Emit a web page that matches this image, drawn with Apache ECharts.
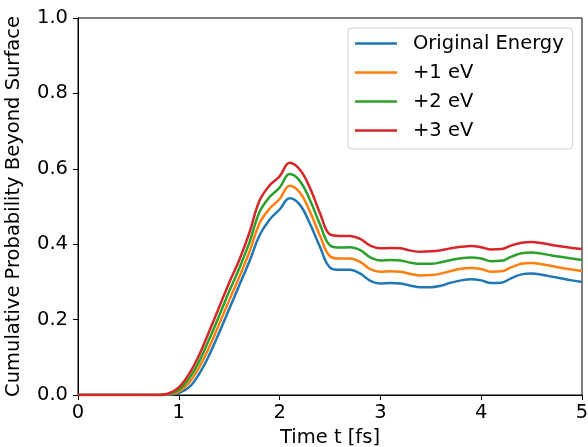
<!DOCTYPE html>
<html>
<head>
<meta charset="utf-8">
<script src="https://cdn.jsdelivr.net/npm/echarts@6/dist/echarts.min.js"></script>
<style>
html,body{margin:0;padding:0;background:#fff;}
#c{width:588px;height:447px;}
</style>
</head>
<body>
<div id="c"></div>
<script>
var times = [0.0,0.1,0.2,0.3,0.4,0.5,0.6,0.7,0.8,0.9,1.0,1.1,1.2,1.3,1.4,1.5,1.6,1.7,1.8,1.9,2.0,2.1,2.2,2.3,2.4,2.5,2.6,2.7,2.8,2.9,3.0,3.1,3.2,3.3,3.4,3.5,3.6,3.7,3.8,3.9,4.0,4.1,4.2,4.3,4.4,4.5,4.6,4.7,4.8,4.9,5.0];
var seriesNames = ["Original Energy", "+1 eV", "+2 eV", "+3 eV"];
var original = [0,0,0,0,0,0,0,0,0,0.001,0.005,0.02,0.055,0.105,0.165,0.228,0.291,0.354,0.423,0.465,0.492,0.522,0.505,0.455,0.393,0.338,0.332,0.332,0.322,0.303,0.296,0.297,0.296,0.29,0.286,0.286,0.29,0.298,0.304,0.307,0.304,0.297,0.298,0.31,0.32,0.322,0.319,0.314,0.309,0.304,0.30];
var plus1 = [0,0,0,0,0,0,0,0,0,0.002,0.009,0.032,0.072,0.126,0.188,0.251,0.313,0.379,0.455,0.494,0.52,0.555,0.537,0.487,0.423,0.368,0.362,0.362,0.353,0.334,0.327,0.328,0.327,0.321,0.317,0.318,0.322,0.329,0.335,0.337,0.334,0.327,0.328,0.339,0.348,0.35,0.347,0.342,0.337,0.333,0.329];
var plus2 = [0,0,0,0,0,0,0,0,0,0.003,0.014,0.043,0.088,0.147,0.21,0.275,0.336,0.404,0.485,0.525,0.55,0.586,0.568,0.518,0.453,0.397,0.391,0.392,0.384,0.365,0.357,0.358,0.357,0.351,0.348,0.348,0.352,0.358,0.363,0.365,0.362,0.355,0.356,0.367,0.376,0.378,0.375,0.37,0.366,0.362,0.358];
var plus3 = [0,0,0,0,0,0,0,0,0,0.004,0.02,0.055,0.105,0.168,0.233,0.298,0.358,0.43,0.515,0.556,0.58,0.616,0.598,0.55,0.483,0.426,0.422,0.422,0.414,0.396,0.389,0.39,0.389,0.383,0.38,0.381,0.384,0.389,0.393,0.395,0.392,0.386,0.387,0.397,0.404,0.406,0.403,0.398,0.394,0.39,0.387];
var colors = ["#1f77b4", "#ff7f0e", "#2ca02c", "#d62728"];
var xTicks = [0,1,2,3,4,5];
var yTicks = [0.0,0.2,0.4,0.6,0.8,1.0];

function pairs(vals){ return times.map(function(t,i){ return [t, vals[i]]; }); }
var allVals = [original, plus1, plus2, plus3];
var font = "DejaVu Sans";
var fs = 19.5;
var chart = echarts.init(document.getElementById('c'), null, {renderer:'canvas'});
chart.setOption({
  animation:false,
  backgroundColor:'#fff',
  color: colors,
  grid:{left:78, right:6, top:18, bottom:52, containLabel:false, outerBoundsMode:'none',
        show:true, borderColor:'#000', borderWidth:1, backgroundColor:'transparent'},
  legend:{
    orient:'vertical', left:348, top:28,
    data: seriesNames,
    itemWidth:42, itemHeight:14, itemGap:8,
    icon:'path://M0,6 L42,6 L42,8.5 L0,8.5 Z',
    padding:[5,9,8,7],
    borderColor:'#d0d0d0', borderWidth:1, borderRadius:4,
    backgroundColor:'rgba(255,255,255,0.8)',
    textStyle:{fontFamily:font, fontSize:fs, color:'#000', lineHeight:21, padding:[0,0,0,11]}
  },
  xAxis:{
    type:'value', min:xTicks[0], max:xTicks[xTicks.length-1], interval:1,
    name:'Time t [fs]', nameLocation:'middle', nameGap:31,
    nameTextStyle:{fontFamily:font, fontSize:fs, color:'#000'},
    axisLine:{show:true, lineStyle:{color:'#000', width:1}},
    axisTick:{show:true, length:5, lineStyle:{color:'#000'}},
    axisLabel:{fontFamily:font, fontSize:fs, color:'#000', margin:8, formatter:function(v){return String(v);}},
    splitLine:{show:false}
  },
  yAxis:{
    type:'value', min:yTicks[0], max:yTicks[yTicks.length-1], interval:0.2,
    name:'Cumulative Probability Beyond Surface', nameLocation:'middle', nameGap:54,
    nameTextStyle:{fontFamily:font, fontSize:fs, color:'#000'},
    axisLine:{show:true, lineStyle:{color:'#000', width:1}},
    axisTick:{show:true, length:5, lineStyle:{color:'#000'}},
    axisLabel:{fontFamily:font, fontSize:fs, color:'#000', margin:10, formatter:function(v){return v.toFixed(1);}},
    splitLine:{show:false}
  },
  series: seriesNames.map(function(n,i){
    return {name:n, type:'line', data:pairs(allVals[i]), smooth:0.4, showSymbol:false, symbol:'none',
      lineStyle:{width:2.5, color:colors[i]}, itemStyle:{color:colors[i]}, z:2+i};
  })
});
</script>
</body>
</html>
